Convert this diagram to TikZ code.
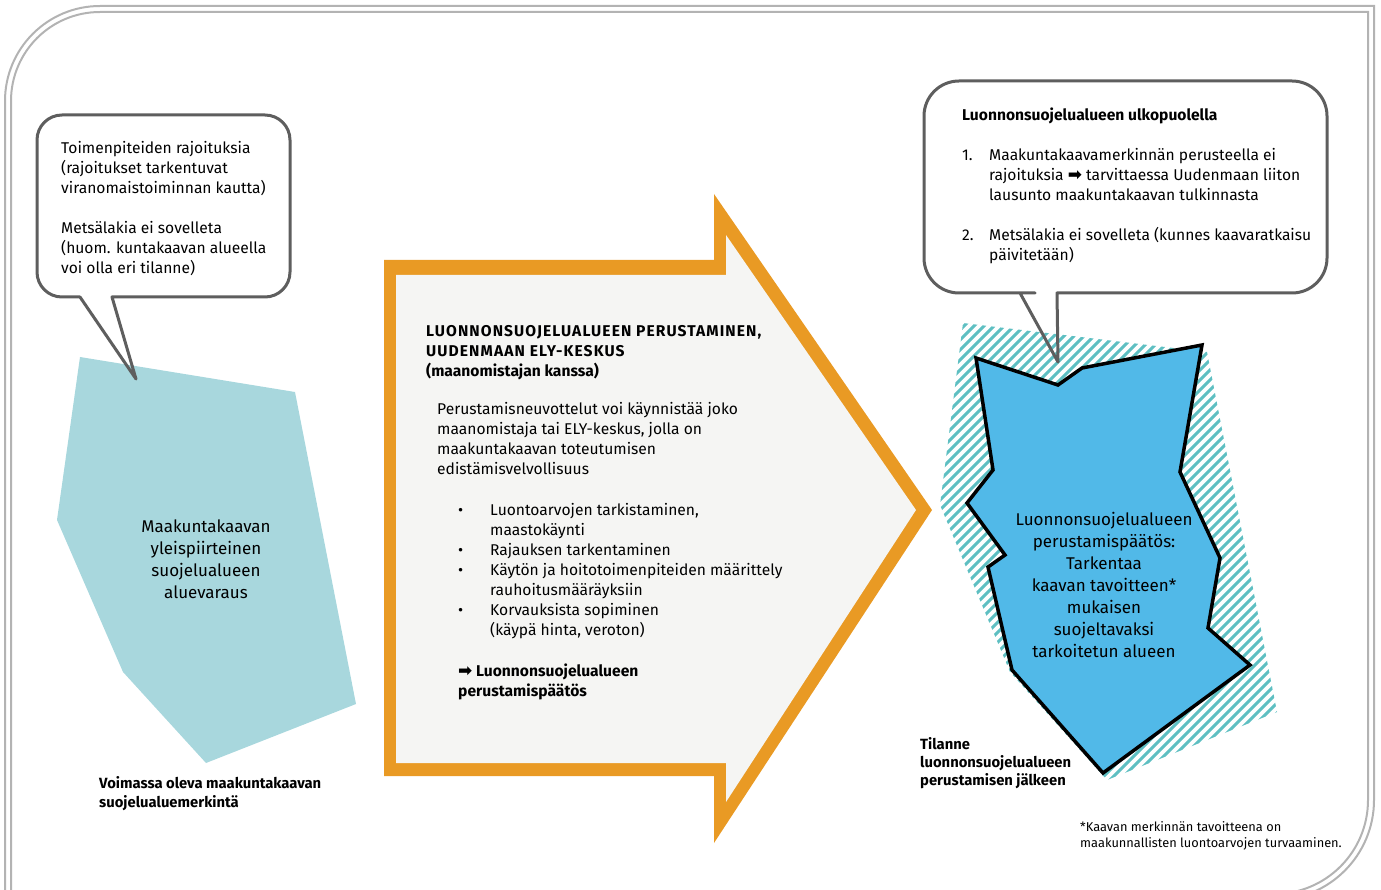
\documentclass[tikz,border=0pt]{standalone}
\usepackage{fontspec}
\setmainfont{Fira Sans}
\newfontfamily\symfont{DejaVu Sans}
\usepackage{xcolor}
\usetikzlibrary{positioning}
\definecolor{frameGrey}{HTML}{B3B3B3}
\definecolor{bubbleGrey}{HTML}{5E5E5E}
\definecolor{planTeal}{HTML}{A8D7DD}
\definecolor{elyOrange}{HTML}{E99A24}
\definecolor{elyFill}{HTML}{F5F5F3}
\definecolor{areaBlue}{HTML}{51B9E8}
\definecolor{hatchTeal}{HTML}{5EBFC2}
\newcommand{\rarr}{{\symfont\bfseries\fontsize{17}{20}\selectfont ➡}}
\newcommand{\widecaps}[1]{{\addfontfeature{LetterSpace=7}#1}}

\begin{document}
\begin{tikzpicture}[x=1pt,y=-1pt,
    framerule/.style={draw=frameGrey,line width=2pt},
    bubble/.style={draw=bubbleGrey,line width=3pt,line join=round,line cap=round},
    bodytxt/.style={anchor=north west,inner sep=0pt,align=left,
                    font=\fontsize{15.6}{20}\selectfont},
    areatxt/.style={anchor=north,inner sep=0pt,align=center,
                    font=\fontsize{17}{22}\selectfont},
    captxt/.style={anchor=north west,inner sep=0pt,align=left,
                   font=\bfseries\fontsize{14.8}{19}\selectfont},
    notetxt/.style={anchor=north west,inner sep=0pt,align=left,
                    font=\fontsize{12.8}{16}\selectfont}]
  \useasboundingbox (0,0) rectangle (1381,890);

  % double frame
  \draw[framerule] (5,930) -- (5,500) [rounded corners=95pt] -- (5,6) -- (600,6)
    [sharp corners] -- (1374,6) -- (1374,400) [rounded corners=100pt] -- (1374,900) -- (800,900);
  \draw[framerule] (11,930) -- (11,500) [rounded corners=89pt] -- (11,12) -- (600,12)
    [sharp corners] -- (1368,12) -- (1368,400) [rounded corners=94pt] -- (1368,894) -- (800,894);

  % current plan marking
  \fill[planTeal] (80,357) -- (295,392) -- (356,704) -- (206,763) -- (123,672) -- (57,520) -- cycle;
  \node[areatxt] (plan) at (206,517) {\strut Maakuntakaavan\\yleispiirteinen\\suojelualueen\\aluevaraus};
  \node[captxt] (plancap) at (99,775) {\strut Voimassa oleva maakuntakaavan\\suojelualuemerkintä};

  % left bubble
  \coordinate (lefttip) at (136,379);
  \draw[bubble] (80,297) -- (lefttip) -- (112,297) -- (200,297) [rounded corners=25pt] -- (290,297)
    -- (290,115) -- (37,115) -- (37,297) -- (80,297);
  \node[bodytxt] (leftnote) at (61,139) {\strut Toimenpiteiden rajoituksia\\(rajoitukset tarkentuvat\\viranomaistoiminnan kautta)\\[20pt]
    Metsälakia ei sovelleta\\(huom. kuntakaavan alueella\\voi olla eri tilanne)};

  % ELY arrow
  \fill[elyOrange] (384,260) -- (714,260) -- (714,194) -- (932,510) -- (714,843) -- (714,776) -- (384,776) -- cycle;
  \fill[elyFill] (396,275) -- (726,275) -- (726,235) -- (916,510) -- (726,802) -- (726,763) -- (396,763) -- cycle;
  \node[bodytxt,font=\bfseries\fontsize{15.6}{20}\selectfont] (elytitle) at (426,322)
    {\strut\widecaps{LUONNONSUOJELUALUEEN PERUSTAMINEN,}\\\widecaps{UUDENMAAN ELY-KESKUS}\\(maanomistajan kanssa)};
  \node[bodytxt] (elybody) at (437,400) {\strut Perustamisneuvottelut voi käynnistää joko\\maanomistaja tai ELY-keskus, jolla on\\
    maakuntakaavan toteutumisen\\edistämisvelvollisuus};
  \node[bodytxt] (elysteps) at (458,501) {\strut\makebox[32pt][l]{•}Luontoarvojen tarkistaminen,\\\hspace*{32pt}maastokäynti\\
    \makebox[32pt][l]{•}Rajauksen tarkentaminen\\\makebox[32pt][l]{•}Käytön ja hoitotoimenpiteiden määrittely\\
    \hspace*{32pt}rauhoitusmääräyksiin\\\makebox[32pt][l]{•}Korvauksista sopiminen\\\hspace*{32pt}(käypä hinta, veroton)};
  \node[bodytxt,font=\bfseries\fontsize{15.6}{20}\selectfont] (elyresult) at (458,662)
    {\strut\rarr\ Luonnonsuojelualueen\\perustamispäätös};

  % protected area after decision
  \begin{scope}
    \clip (963,323) -- (1207,352) -- (1277,712) -- (1107,780) -- (1010,672) -- (940,505) -- cycle;
    \foreach \k in {470,480,...,1200}
      \draw[hatchTeal,line width=3pt] (\k,800) -- ++(500,-500);
  \end{scope}
  \filldraw[fill=areaBlue,draw=black,line width=3.5pt] (976,358) -- (1058,385) -- (1082,368) -- (1202,345)
    -- (1180,472) -- (1220,558) -- (1208,628) -- (1250,665) -- (1103,773) -- (1012,670) -- (988,567)
    -- (1005,555) -- (967,503) -- (993,470) -- cycle;
  \node[areatxt] (area) at (1104,510) {\strut Luonnonsuojelualueen\\perustamispäätös:\\Tarkentaa\\kaavan tavoitteen*\\
    mukaisen\\suojeltavaksi\\tarkoitetun alueen};
  \node[captxt,font=\bfseries\fontsize{14.8}{18}\selectfont] (areacap) at (920,737)
    {\strut Tilanne\\luonnonsuojelualueen\\perustamisen jälkeen};

  % right bubble
  \coordinate (righttip) at (1058,362);
  \draw[bubble] (924,200) [rounded corners=35pt] -- (924,293) -- (1000,293) [sharp corners] -- (1020,293)
    -- (righttip) -- (1057,293) -- (1100,293) [rounded corners=35pt] -- (1327,293) -- (1327,81) -- (924,81) -- cycle;
  \node[bodytxt,font=\bfseries\fontsize{15.6}{20}\selectfont] (outtitle) at (962,106) {\strut Luonnonsuojelualueen ulkopuolella};
  \node[bodytxt] (outlist) at (962,146) {\strut\makebox[27pt][l]{1.}Maakuntakaavamerkinnän perusteella ei\\
    \hspace*{27pt}rajoituksia \rarr\ tarvittaessa Uudenmaan liiton\\\hspace*{27pt}lausunto maakuntakaavan tulkinnasta\\[20pt]
    \makebox[27pt][l]{2.}Metsälakia ei sovelleta (kunnes kaavaratkaisu\\\hspace*{27pt}päivitetään)};

  \node[notetxt] (note) at (1080,820) {\strut *Kaavan merkinnän tavoitteena on\\maakunnallisten luontoarvojen turvaaminen.};
\end{tikzpicture}
\end{document}
